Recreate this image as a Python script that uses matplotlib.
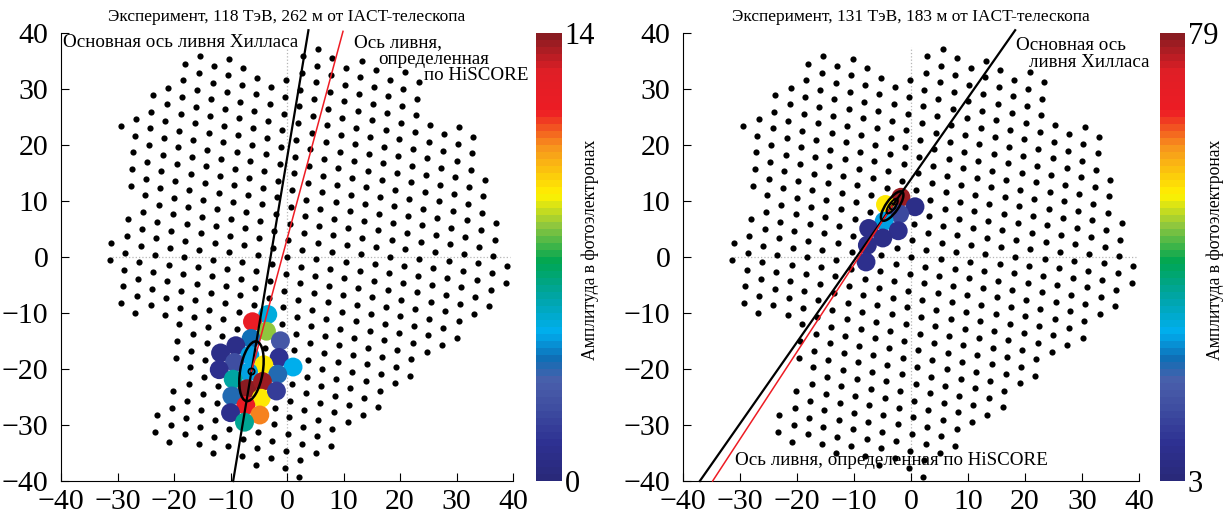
import numpy as np
import matplotlib.pyplot as plt
from matplotlib.path import Path
from matplotlib.patches import Ellipse
from matplotlib.colors import LinearSegmentedColormap, Normalize
from matplotlib.cm import ScalarMappable

plt.rcParams['font.family'] = ['Liberation Serif', 'DejaVu Serif']

# camera geometry: hexagonal PMT grid, pitch and tilt
pitch = 3.0
tilt = 85.5
# camera outline (edge PMT centres)
edge_x = [-14.5, -6.9, -2.0, 0.9, 3.7, 6.7, 14.3, 22.0, 24.4, 23.7, 26.2, 31.3, 33.8, 33.1,
          35.6, 35.1, 37.5, 39.4, 39.0, 1.3, -1.0, -3.6, -6.4, -11.2, -14.0, -16.4, -21.8,
          -24.0, -23.8, -18.0, -17.6, -20.1, -19.6, -24.4, -27.1, -29.6, -31.4, -31.2,
          -25.3, -27.4, -26.7, -29.2, -28.9, -26.2, -23.1, -17.1]
edge_y = [36.5, 34.2, 30.6, 31.8, 36.2, 37.3, 35.0, 32.7, 30.9, 24.8, 23.1, 22.5, 20.8, 14.8,
          13.0, 6.9, 5.0, -2.8, -5.7, -39.6, -37.8, -36.1, -37.2, -33.7, -34.8, -33.1, -32.6,
          -31.0, -27.9, -22.5, -19.6, -17.7, -11.6, -8.8, -9.5, -7.8, 0.0, 3.1,
          8.6, 13.4, 19.6, 21.3, 24.4, 25.5, 29.9, 35.2]

# event 1: 118 TeV
hits1_x = [-4.6, -6.4, -4.5, -6.8, -1.8, -9.6, -12.4, -5.5, -1.8, -9.8, -12.4, -5.1, 0.5,
           -7.4, -10.1, -2.1, -7.7, -5.1, -10.7, -5.4, -2.4, -8.3, -11.0, -5.7, -8.3]
hits1_y = [-10.1, -11.5, -13.4, -14.4, -15.0, -15.6, -16.8, -16.5, -18.0, -18.6, -19.8, -19.5,
           -19.8, -19.5, -21.6, -21.0, -23.0, -22.4, -24.5, -24.8, -23.9, -26.3, -27.8, -28.1, -29.6]
hits1_amp = [5.0, 12.0, 8.0, 3.8, 2.8, 0.8, 0.8, 4.5, 1.3, 2.4, 0.9, 9.0, 4.6,
             4.4, 5.8, 3.7, 13.8, 13.6, 3.6, 9.0, 1.6, 11.8, 1.0, 10.5, 6.0]
# event 2: 131 TeV
hits2_x = [-1.5, -4.4, 0.9, -1.8, -5.0, -7.3, -2.4, -5.0, -7.9, -8.2]
hits2_y = [10.9, 9.8, 9.2, 7.7, 6.8, 5.4, 4.8, 3.6, 2.4, -0.6]
hits2_amp = [77, 52, 7, 14, 27, 7, 8, 7, 7, 8]

# Hillas ellipses: centre, half-length, half-width, angle
hillas1 = dict(x=-6.3, y=-20.4, length=5.4, width=2.0, angle=80.6)
hillas2 = dict(x=-3.3, y=9.1, length=3.1, width=1.1, angle=55.5)
# HiSCORE axes (start point, end at ellipse centre)
hiscore1_x = [9.9, -6.3]
hiscore1_y = [40.3, -20.4]
hiscore2_x = [-34.8, -3.3]
hiscore2_y = [-40.0, 9.1]

titles = ['Эксперимент, 118 ТэВ, 262 м от IACT-телескопа',
          'Эксперимент, 131 ТэВ, 183 м от IACT-телескопа']
ranges = [(0, 14), (3, 79)]

cmap = LinearSegmentedColormap.from_list('pe', [
    (0.0, '#29297a'), (0.08, '#2e3192'), (0.16, '#3f4ea1'), (0.22, '#4a5fab'),
    (0.27, '#0f6fb6'), (0.33, '#00aeef'), (0.41, '#00a5a5'), (0.49, '#00a651'),
    (0.57, '#8dc63f'), (0.64, '#fff200'), (0.75, '#f7941d'), (0.83, '#ed1c24'),
    (0.92, '#e01f26'), (1.0, '#8a1b21')], N=64)


def camera():
    a = pitch * np.array([np.cos(np.radians(tilt)), np.sin(np.radians(tilt))])
    w = pitch * np.array([np.cos(np.radians(tilt - 60)), np.sin(np.radians(tilt - 60))])
    n, m = np.meshgrid(np.arange(-25, 26), np.arange(-25, 26))
    pts = n.reshape(-1, 1) * a + m.reshape(-1, 1) * w
    path = Path(np.column_stack([edge_x, edge_y]), closed=False)
    inside = path.contains_points(pts, radius=1.2) | path.contains_points(pts, radius=-1.2)
    return pts[inside]


def snap(pts, xs, ys):
    out = []
    for x, y in zip(xs, ys):
        d = np.hypot(pts[:, 0] - x, pts[:, 1] - y)
        out.append(pts[np.argmin(d)])
    return np.array(out)


def panel(ax, cax, hx, hy, amp, vr, hil, hs_x, hs_y, title):
    pts = camera()
    ax.plot([-31, 39.5], [0, 0], ls=':', color='#b5b5b5', lw=0.9, zorder=1)
    ax.plot([0, 0], [-40, 37.5], ls=':', color='#b5b5b5', lw=0.9, zorder=1)
    ax.scatter(pts[:, 0], pts[:, 1], s=20, color='black', lw=0, zorder=2, clip_on=False)
    hp = snap(pts, hx, hy)
    norm = Normalize(*vr)
    ax.scatter(hp[:, 0], hp[:, 1], s=185, c=amp, cmap=cmap, norm=norm, lw=0, zorder=3)

    ang = np.radians(hil['angle'])
    t = np.array([-40, 40.5])
    ax.plot(hil['x'] + (t - hil['y']) / np.tan(ang), t, color='black', lw=1.6, zorder=5,
            clip_on=False)
    ax.plot(hs_x, hs_y, color='#ee1c24', lw=1.1, zorder=6, clip_on=False)
    ax.add_patch(Ellipse((hil['x'], hil['y']), 2 * hil['length'], 2 * hil['width'],
                         angle=hil['angle'], fill=False, lw=1.8, ec='black', zorder=7))
    ax.plot(hil['x'], hil['y'], 'o', ms=4.5, mfc='none', mec='black', mew=1.3, zorder=8)

    ax.set_xlim(-40, 40)
    ax.set_ylim(-40, 40)
    ax.set_xticks(range(-40, 41, 10))
    ax.set_yticks(range(-40, 41, 10))
    for s in ['top', 'right']:
        ax.spines[s].set_visible(False)
    ax.tick_params(direction='in', length=6, labelsize=21.5)
    ax.tick_params(axis='x', pad=6)
    ax.tick_params(axis='y', pad=9)
    ax.set_title(title, fontsize=12.5, pad=9)

    cb = plt.colorbar(ScalarMappable(norm=norm, cmap=cmap), cax=cax)
    cb.outline.set_visible(False)
    cb.set_ticks(list(vr))
    cb.ax.tick_params(length=0, labelsize=22, pad=2)


fig = plt.figure(figsize=(12.26, 5.16), dpi=100)
ax1 = fig.add_axes([0.0498, 0.0678, 0.3687, 0.8682])
cax1 = fig.add_axes([0.4372, 0.0678, 0.0212, 0.8682])
ax2 = fig.add_axes([0.5571, 0.0678, 0.3719, 0.8682])
cax2 = fig.add_axes([0.9462, 0.0678, 0.0204, 0.8682])

panel(ax1, cax1, hits1_x, hits1_y, hits1_amp, ranges[0], hillas1, hiscore1_x, hiscore1_y, titles[0])
panel(ax2, cax2, hits2_x, hits2_y, hits2_amp, ranges[1], hillas2, hiscore2_x, hiscore2_y, titles[1])

# second (inner) contour of the right ellipse
ax2.add_patch(Ellipse((hillas2['x'], hillas2['y']), hillas2['length'], hillas2['width'],
                      angle=hillas2['angle'], fill=False, lw=1.5, ec='black', zorder=7))

ax1.text(-39.6, 38.3, 'Основная ось ливня Хилласа', fontsize=13.7, va='center', ha='left')
ax1.text(11.9, 38.3, 'Ось ливня,', fontsize=13.7, va='center', ha='left')
ax1.text(16.1, 35.3, 'определенная', fontsize=13.7, va='center', ha='left')
ax1.text(24.2, 32.4, 'по HiSCORE', fontsize=13.7, va='center', ha='left')
ax2.text(18.4, 37.7, 'Основная ось', fontsize=13.7, va='center', ha='left')
ax2.text(20.7, 34.7, 'ливня Хилласа', fontsize=13.7, va='center', ha='left')
ax2.text(-30.8, -36.3, 'Ось ливня, определенная по HiSCORE', fontsize=13.7, va='center', ha='left')

fig.text(590 / 1226, 0.515, 'Амплитуда в фотоэлектронах', rotation=90, fontsize=12.7,
         ha='center', va='center')
fig.text(1215 / 1226, 0.515, 'Амплитуда в фотоэлектронах', rotation=90, fontsize=12.7,
         ha='center', va='center')

fig.savefig('out.png', dpi=100)
